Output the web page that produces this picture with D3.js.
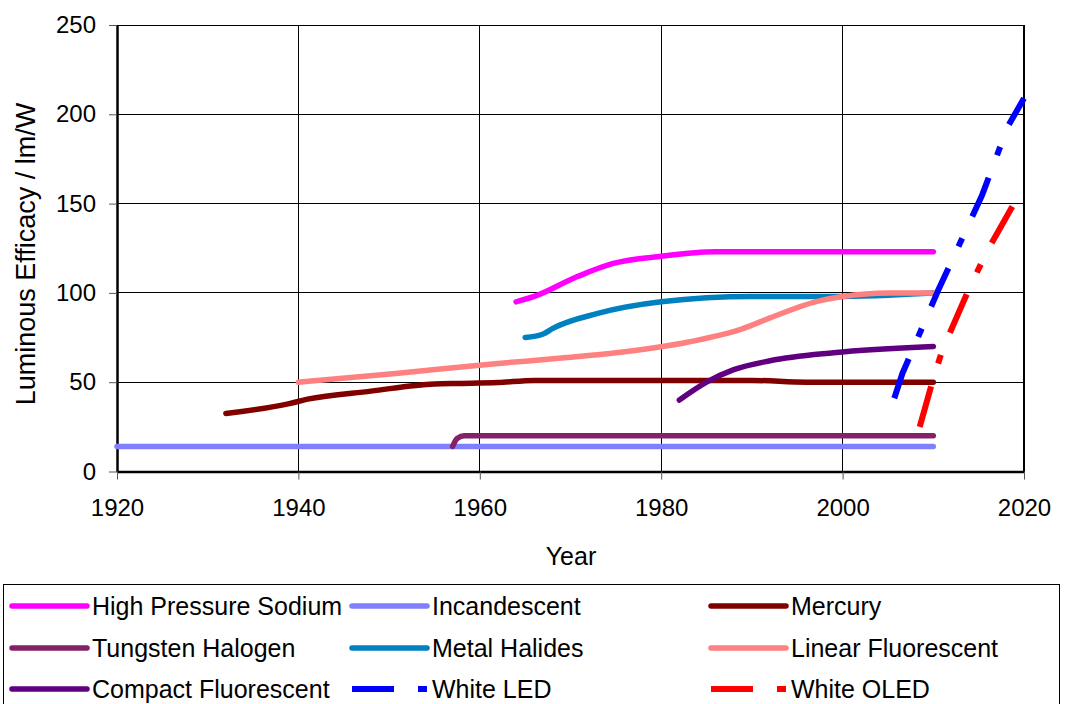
<!DOCTYPE html>
<html>
<head>
<meta charset="utf-8">
<script src="https://cdn.jsdelivr.net/npm/d3@7"></script>
<style>
  body { margin: 0; background: #fff; }
  text { font-family: "Liberation Sans", Arial, sans-serif; fill: #000; }
</style>
</head>
<body>
<svg id="chart" width="1065" height="704"></svg>
<script>
'use strict';

// series, [year, lm/W]
var hpsData = [[1964, 95], [1966, 98], [1970.7, 109], [1974.7, 116.5], [1980, 120.5], [1986, 123], [2010, 123]];
var incandescentData = [[1920, 14], [2010, 14]];
var mercuryData = [[1932, 32.5], [1939, 38], [1941, 40.5], [1948, 45], [1955, 49], [1958, 49.3], [1962, 49.8], [1966, 51], [1990, 51], [1996, 50], [2010, 50]];
var halogenData = [[1957, 14], [1957.5, 18.5], [1958.3, 20], [2010, 20]];
var metalHalideData = [[1965, 75], [1967, 77], [1968, 80], [1973, 88.5], [1980, 95], [1990, 98], [1999, 98], [2010, 100]];
var linearFluorData = [[1940, 50], [1951, 55], [1962, 60.5], [1969, 63.5], [1976, 67], [1983, 72.5], [1989, 80], [1992, 86], [1997, 95], [2000, 98], [2005, 100], [2010, 100]];
var compactFluorData = [[1982, 40], [1985, 50], [1988, 57], [1992, 62], [1999, 66.5], [2010, 70]];
var ledData = [[2005.7, 41], [2006.6, 55], [2007.2, 62], [2010.5, 101], [2015.4, 155], [2018.2, 193], [2020, 209]];
var oledData = [[2008.5, 25], [2010, 52], [2011, 68], [2014, 103], [2016, 124], [2020, 160]];

var seriesNames = ['High Pressure Sodium', 'Incandescent', 'Mercury', 'Tungsten Halogen', 'Metal Halides',
  'Linear Fluorescent', 'Compact Fluorescent', 'White LED', 'White OLED'];
var xTicks = [1920, 1940, 1960, 1980, 2000, 2020];
var yTicks = [0, 50, 100, 150, 200, 250];

var series = [
  { name: seriesNames[0], data: hpsData, color: '#ff00ff', dashed: false },
  { name: seriesNames[1], data: incandescentData, color: '#8080ff', dashed: false },
  { name: seriesNames[2], data: mercuryData, color: '#800000', dashed: false },
  { name: seriesNames[3], data: halogenData, color: '#832266', dashed: false },
  { name: seriesNames[4], data: metalHalideData, color: '#0080c0', dashed: false },
  { name: seriesNames[5], data: linearFluorData, color: '#ff8080', dashed: false },
  { name: seriesNames[6], data: compactFluorData, color: '#600080', dashed: false },
  { name: seriesNames[7], data: ledData, color: '#0000ff', dashed: true },
  { name: seriesNames[8], data: oledData, color: '#ff0000', dashed: true }
];

var margin = { top: 25, left: 117 };
var plotWidth = 907;
var plotHeight = 446.5;
var dashPattern = '42,24,9,24';

var svg = d3.select('#chart');
var graph = svg.append('g').attr('transform', 'translate(' + margin.left + ',' + margin.top + ')');

//Scales
var xScale = d3.scaleLinear().domain([1920, 2020]).range([0, plotWidth]);
var yScale = d3.scaleLinear().domain([0, 250]).range([plotHeight, 0]);

//Gridlines
graph.append('g').selectAll('line.hgrid').data(yTicks).enter().append('line')
  .attr('x1', 0).attr('x2', plotWidth)
  .attr('y1', function (d) { return yScale(d); }).attr('y2', function (d) { return yScale(d); })
  .attr('stroke', '#000').attr('stroke-width', 1).attr('shape-rendering', 'crispEdges');
graph.append('g').selectAll('line.vgrid').data(xTicks).enter().append('line')
  .attr('y1', 0).attr('y2', plotHeight)
  .attr('x1', function (d) { return xScale(d); }).attr('x2', function (d) { return xScale(d); })
  .attr('stroke', '#000').attr('stroke-width', function (d) { return d === 2020 ? 2 : 1; })
  .attr('shape-rendering', 'crispEdges');

//Axes
var yAxis = graph.append('g').call(d3.axisLeft(yScale).tickValues(yTicks).tickSize(8).tickPadding(13).tickSizeOuter(0));
var xAxis = graph.append('g').attr('transform', 'translate(0,' + plotHeight + ')')
  .call(d3.axisBottom(xScale).tickValues(xTicks).tickFormat(d3.format('d')).tickSize(8).tickPadding(19).tickSizeOuter(0));
[xAxis, yAxis].forEach(function (ax) {
  ax.select('.domain').attr('stroke', '#000').attr('stroke-width', 2.5);
  ax.selectAll('.tick line').attr('stroke', '#555').attr('stroke-width', 1);
  ax.selectAll('.tick text').style('font-size', '24px').style('font-family', '"Liberation Sans", Arial, sans-serif').attr('fill', '#000');
});

//Lines
var smoothLine = d3.line().curve(d3.curveMonotoneX)
  .x(function (d) { return xScale(d[0]); }).y(function (d) { return yScale(d[1]); });
var straightLine = d3.line()
  .x(function (d) { return xScale(d[0]); }).y(function (d) { return yScale(d[1]); });

graph.selectAll('path.series').data(series).enter().append('path')
  .attr('class', 'series')
  .attr('d', function (d) { return d.dashed ? straightLine(d.data) : smoothLine(d.data); })
  .attr('fill', 'none')
  .attr('stroke', function (d) { return d.color; })
  .attr('stroke-width', function (d) { return d.dashed ? 6 : 5.5; })
  .attr('stroke-linecap', function (d) { return d.dashed ? 'butt' : 'round'; })
  .attr('stroke-linejoin', 'round')
  .attr('stroke-dasharray', function (d) { return d.dashed ? dashPattern : null; });

//Axis titles
svg.append('text').attr('x', 571).attr('y', 565).style('text-anchor', 'middle').style('font-size', '25px').text('Year');
svg.append('text').attr('transform', 'translate(35,254) rotate(-90)').style('text-anchor', 'middle')
  .style('font-size', '27px').text('Luminous Efficacy / lm/W');

//Legend
var legend = svg.append('g');
legend.append('rect').attr('x', 3.5).attr('y', 584.5).attr('width', 1056).attr('height', 130)
  .attr('fill', '#fff').attr('stroke', '#000').attr('stroke-width', 1);

var colX = [12, 352, 711];
var rowY = [606, 648, 689];
var items = legend.selectAll('g.item').data(series).enter().append('g')
  .attr('transform', function (d, i) { return 'translate(' + colX[i % 3] + ',' + rowY[Math.floor(i / 3)] + ')'; });
items.append('line').attr('x1', 0).attr('x2', 75).attr('y1', 0).attr('y2', 0)
  .attr('stroke', function (d) { return d.color; })
  .attr('stroke-width', function (d) { return d.dashed ? 6 : 5.5; })
  .attr('stroke-linecap', function (d) { return d.dashed ? 'butt' : 'round'; })
  .attr('stroke-dasharray', function (d) { return d.dashed ? dashPattern : null; });
items.append('text').attr('x', 80).attr('y', 9).style('font-size', '25px').text(function (d) { return d.name; });
</script>
</body>
</html>
